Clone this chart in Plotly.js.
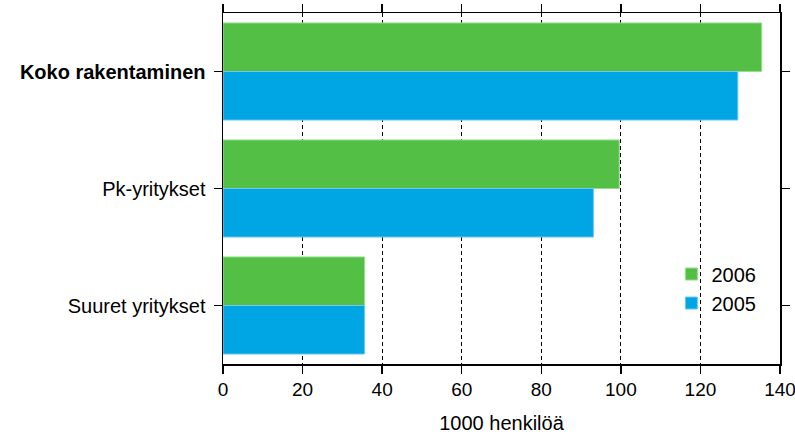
<!DOCTYPE html>
<html><head><meta charset="utf-8">
<script src="https://cdn.plot.ly/plotly-3.0.1.min.js"></script>
<style>html,body{margin:0;padding:0;background:#fff}#c{width:795px;height:434px}</style>
</head><body><div id="c"></div>
<script>
const categories = ["Koko rakentaminen", "Pk-yritykset", "Suuret yritykset"];
const tickLabels = ["<b>Koko rakentaminen</b>", "Pk-yritykset", "Suuret yritykset"];
const values2006 = [135.4, 99.6, 35.6];
const values2005 = [129.4, 93.1, 35.6];
const xTicks = [0, 20, 40, 60, 80, 100, 120, 140];
const xTitle = "1000 henkilöä";

const green = "rgb(83,192,69)", blue = "rgb(0,166,228)";
const traces = [
  {type:"bar", orientation:"h", name:"2006", y:categories, x:values2006,
   marker:{color:green, line:{color:"rgb(150,222,140)", width:1}}},
  {type:"bar", orientation:"h", name:"2005", y:categories, x:values2005,
   marker:{color:blue, line:{color:"rgb(110,200,240)", width:1}}}
];
const font = {family:"Liberation Sans, Arial, sans-serif", size:20, color:"#000"};
const layout = {
  width:795, height:434,
  margin:{l:223, r:15, t:13, b:70, pad:0},
  paper_bgcolor:"#fff", plot_bgcolor:"#fff",
  font: font,
  barmode:"group", bargap:0.17, bargroupgap:0,
  showlegend:true,
  legend:{x:0.805, y:0.215, xanchor:"left", yanchor:"middle", bgcolor:"rgba(0,0,0,0)",
          font:{family:font.family, size:20, color:"#000"}, itemwidth:30, tracegroupgap:0},
  xaxis:{range:[0,140], tickvals:xTicks, ticktext:xTicks.map(String),
         tickfont:{family:font.family, size:19, color:"#000"}, ticklabeloverflow:"allow",
         showgrid:true, gridcolor:"#000", gridwidth:1, griddash:"4px,3px",
         showline:true, linecolor:"#000", linewidth:1.5, mirror:"all",
         ticks:"outside", ticklen:8, tickcolor:"#000", tickwidth:1.5,
         zeroline:false, fixedrange:true, automargin:false,
         title:{text:xTitle, standoff:24, font:{family:font.family, size:20, color:"#000"}}},
  yaxis:{type:"category", autorange:"reversed", tickvals:categories, ticktext:tickLabels,
         showgrid:false, showline:true, linecolor:"#000", linewidth:1.5, mirror:"all",
         ticks:"outside", ticklen:8, tickcolor:"#000", tickwidth:1.5,
         ticklabelstandoff:4, zeroline:false, fixedrange:true, automargin:false}
};
Plotly.newPlot("c", traces, layout, {displayModeBar:false, staticPlot:true});
</script></body></html>
